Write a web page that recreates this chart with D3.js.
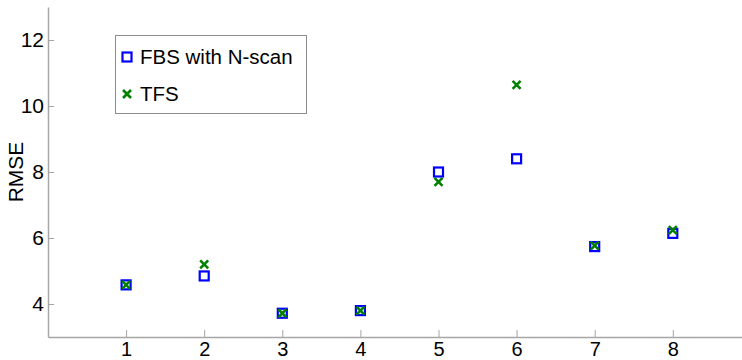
<!DOCTYPE html>
<html>
<head>
<meta charset="utf-8">
<script src="https://cdn.jsdelivr.net/npm/d3@7"></script>
<style>
  html, body { margin: 0; padding: 0; background: #fff; }
  svg { display: block; font-family: "Liberation Sans", Arial, sans-serif; }
</style>
</head>
<body>
<svg id="chart" width="742" height="360"></svg>
<script>
const categories = [1, 2, 3, 4, 5, 6, 7, 8];
const fbsValues = [4.58, 4.85, 3.72, 3.80, 8.00, 8.40, 5.74, 6.14];
const tfsValues = [4.58, 5.20, 3.72, 3.80, 7.70, 10.64, 5.77, 6.24];
const yTicks = [4, 6, 8, 10, 12];
const seriesNames = ["FBS with N-scan", "TFS"];

(function () {
const svg = d3.select("#chart");
const plotLeft = 48, plotTop = 7, plotBottom = 337;
const x = d3.scaleLinear().domain([0, 9]).range([plotLeft, plotLeft + 9 * 78.1]);
const y = d3.scaleLinear().domain([3, 13]).range([plotBottom, plotTop]);

const axisColor = "#a6a6a6";

// x axis
const gx = svg.append("g").attr("transform", `translate(0,${plotBottom})`)
  .call(d3.axisBottom(x).tickValues(categories).tickSizeInner(-7).tickSizeOuter(0).tickPadding(6));
gx.select(".domain").attr("stroke", axisColor).attr("stroke-width", 1.5);
gx.selectAll(".tick line").attr("stroke", axisColor);
gx.selectAll(".tick text").attr("font-size", 20).attr("fill", "#000").attr("y", 19).attr("dy", 0);

// y axis
const gy = svg.append("g").attr("transform", `translate(${plotLeft},0)`)
  .call(d3.axisLeft(y).tickValues(yTicks).tickSizeInner(-6).tickSizeOuter(0).tickPadding(4));
gy.select(".domain").attr("stroke", axisColor).attr("stroke-width", 1.5);
gy.selectAll(".tick line").attr("stroke", axisColor);
gy.selectAll(".tick text").attr("font-size", 21).attr("fill", "#000").attr("x", -4);

// y label
svg.append("text")
  .attr("transform", `translate(23,172) rotate(-90)`)
  .attr("text-anchor", "middle")
  .attr("font-size", 21)
  .attr("fill", "#000")
  .text("RMSE");

const blue = "#0000ff", green = "#008000";
const sq = 9;
const xs = 4;

function drawSquare(g, cx, cy) {
  g.append("rect").attr("x", cx - sq / 2).attr("y", cy - sq / 2)
    .attr("width", sq).attr("height", sq)
    .attr("fill", "none").attr("stroke", blue).attr("stroke-width", 2.2);
}
function drawCross(g, cx, cy) {
  g.append("path").attr("d", `M${cx - xs},${cy - xs}L${cx + xs},${cy + xs}M${cx - xs},${cy + xs}L${cx + xs},${cy - xs}`)
    .attr("stroke", green).attr("stroke-width", 2.6).attr("fill", "none");
}

const marks = svg.append("g");
categories.forEach((c, i) => drawSquare(marks, x(c), y(fbsValues[i])));
categories.forEach((c, i) => drawCross(marks, x(c), y(tfsValues[i])));

// legend
const lg = svg.append("g");
lg.append("rect").attr("x", 115.5).attr("y", 35.5).attr("width", 191).attr("height", 78)
  .attr("fill", "#fff").attr("stroke", "#8c8c8c").attr("stroke-width", 1);
drawSquare(lg, 127, 57);
drawCross(lg, 127, 94);
lg.append("text").attr("x", 140).attr("y", 57).attr("dy", "0.35em").attr("font-size", 20.5).attr("fill", "#000").text(seriesNames[0]);
lg.append("text").attr("x", 140).attr("y", 94).attr("dy", "0.35em").attr("font-size", 20.5).attr("fill", "#000").text(seriesNames[1]);
})();
</script>
</body>
</html>
